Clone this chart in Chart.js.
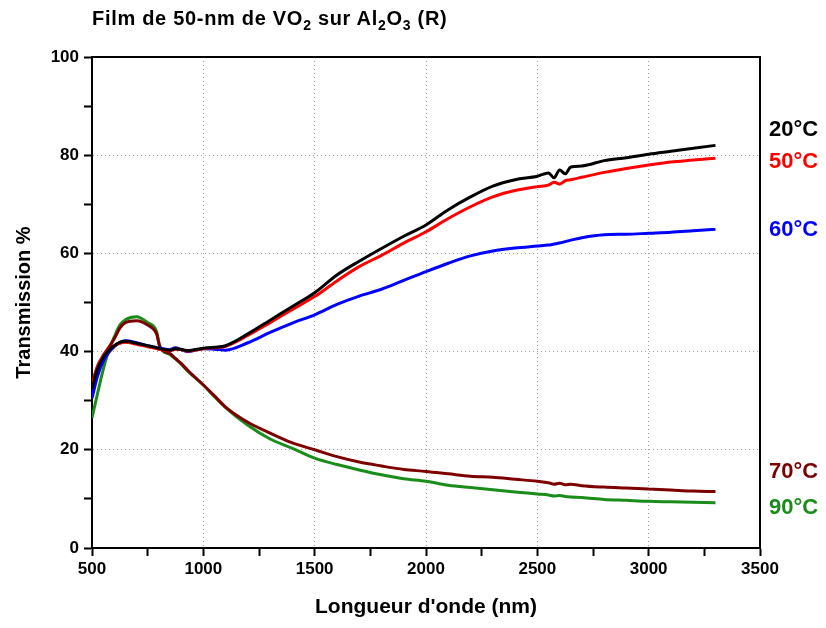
<!DOCTYPE html>
<html>
<head>
<meta charset="utf-8">
<script src="https://cdn.jsdelivr.net/npm/chart.js@4"></script>
<style>
  body { margin: 0; background: #fff; }
  #wrap { position: relative; width: 826px; height: 628px; }
  #title {
    position: absolute; left: 92px; top: 7px; letter-spacing: 0.7px;
    font: bold 20px "Liberation Sans", Arial, sans-serif; color: #000;
  }
  #title sub { font-size: 14px; vertical-align: -5px; line-height: 0; }
</style>
</head>
<body>
<div id="wrap">
  <div id="title">Film de 50-nm de VO<sub>2</sub> sur Al<sub>2</sub>O<sub>3</sub> (R)</div>
  <canvas id="spectra" width="826" height="628"></canvas>
</div>
<script>
const wavelengths = [500, 525, 550, 575, 600, 625, 650, 700, 750, 790, 805, 850, 875, 900, 930,
  1000, 1050, 1100, 1200, 1300, 1400, 1500, 1600, 1700, 1800, 1900, 2000, 2100, 2200, 2300,
  2400, 2500, 2550, 2575, 2600, 2625, 2650, 2700, 2800, 2900, 3000, 3100, 3200, 3300];

const t20 = [32.5, 36.5, 38.8, 40.2, 41.2, 41.9, 42.1, 41.7, 41.2, 40.8, 40.6, 40.3, 40.6, 40.5, 40.2,
  40.7, 40.9, 41.2, 43.6, 46.4, 49.2, 52.0, 55.6, 58.4, 61.0, 63.5, 65.8, 68.9, 71.5, 73.7,
  75.0, 75.7, 76.4, 75.4, 77.0, 76.2, 77.6, 77.8, 78.9, 79.5, 80.2, 80.8, 81.4, 82.0];

const t50 = [33.0, 37.0, 39.0, 40.3, 41.2, 41.7, 41.9, 41.5, 41.0, 40.6, 40.4, 40.2, 40.5, 40.4, 40.1,
  40.6, 40.8, 41.1, 43.3, 45.9, 48.6, 51.2, 54.4, 57.3, 59.6, 62.1, 64.4, 67.1, 69.5, 71.5,
  72.8, 73.6, 73.9, 74.5, 74.1, 74.8, 75.0, 75.5, 76.5, 77.3, 78.0, 78.6, 79.0, 79.4];

const t60 = [30.5, 35.0, 38.0, 39.8, 41.0, 41.9, 42.2, 41.8, 41.2, 40.8, 40.7, 40.4, 40.8, 40.4, 40.0,
  40.6, 40.5, 40.3, 41.8, 43.9, 45.8, 47.5, 49.6, 51.3, 52.7, 54.5, 56.3, 58.0, 59.5, 60.5,
  61.1, 61.5, 61.7, 61.9, 62.1, 62.4, 62.7, 63.2, 63.8, 63.9, 64.1, 64.3, 64.6, 64.9];

const t70 = [33.5, 37.0, 39.2, 40.8, 42.6, 44.8, 45.9, 46.3, 45.4, 43.6, 41.0, 39.6, 38.6, 37.6, 36.2,
  33.2, 31.0, 28.7, 25.6, 23.4, 21.4, 20.0, 18.6, 17.5, 16.7, 16.0, 15.6, 15.1, 14.6, 14.4,
  14.0, 13.6, 13.3, 13.0, 13.2, 12.9, 13.0, 12.7, 12.4, 12.2, 12.0, 11.8, 11.6, 11.5];

const t90 = [26.5, 31.5, 36.3, 40.2, 43.0, 45.4, 46.5, 47.1, 45.9, 44.1, 41.0, 39.4, 38.5, 37.5, 36.0,
  33.2, 30.8, 28.6, 25.0, 22.2, 20.3, 18.3, 17.0, 15.9, 14.9, 14.1, 13.6, 12.8, 12.3, 11.85,
  11.4, 11.0, 10.8, 10.6, 10.7, 10.5, 10.4, 10.3, 9.9, 9.7, 9.5, 9.4, 9.3, 9.2];

const seriesNames = ['20°C', '50°C', '60°C', '70°C', '90°C'];
const seriesColors = ['#000000', '#ff0000', '#0000ff', '#7d0000', '#1a8c1a'];
const seriesValues = [t20, t50, t60, t70, t90];
// where the temperature labels sit on the right, in % units
const labelLevels = [85.1, 78.6, 64.8, 15.5, 8.2];

const ctx = document.getElementById('spectra').getContext('2d');
const fontFamily = '"Liberation Sans", Arial, sans-serif';

const datasets = seriesValues.map((vals, i) => ({
  label: seriesNames[i],
  data: wavelengths.map((w, j) => ({ x: w, y: vals[j] })),
  borderColor: seriesColors[i],
  borderWidth: 3,
  pointRadius: 0,
  cubicInterpolationMode: 'monotone',
  fill: false
}));

const frameAndLabels = {
  id: 'frameAndLabels',
  afterDraw(chart) {
    const c = chart.ctx;
    const a = chart.chartArea;
    c.save();
    c.strokeStyle = '#000';
    c.lineWidth = 2;
    c.beginPath();
    c.moveTo(a.left, a.top);
    c.lineTo(a.right, a.top);
    c.lineTo(a.right, a.bottom);
    c.stroke();

    c.font = 'bold 22px ' + fontFamily;
    c.textBaseline = 'middle';
    c.textAlign = 'left';
    const y = chart.scales.y;
    seriesNames.forEach((name, i) => {
      c.fillStyle = seriesColors[i];
      c.fillText(name, a.right + 9, y.getPixelForValue(labelLevels[i]));
    });
    c.restore();
  }
};

new Chart(ctx, {
  type: 'line',
  data: { datasets: datasets },
  plugins: [frameAndLabels],
  options: {
    responsive: false,
    animation: false,
    devicePixelRatio: 1,
    layout: { padding: { left: 0, top: 57, right: 66, bottom: 0 } },
    plugins: { legend: { display: false }, tooltip: { enabled: false } },
    scales: {
      x: {
        type: 'linear',
        min: 500,
        max: 3500,
        afterFit(scale) { scale.height = 80; },
        ticks: {
          stepSize: 250,
          autoSkip: false,
          maxRotation: 0,
          padding: 3,
          color: '#000',
          font: { family: fontFamily, size: 17, weight: 'bold' },
          callback: v => (v % 500 === 0 ? v : '')
        },
        grid: {
          color: c => (c.tick && c.tick.value % 500 === 0 && c.tick.value > 500 && c.tick.value < 3500) ? '#a0a0a0' : 'rgba(0,0,0,0)',
          tickColor: '#000',
          tickWidth: 2,
          tickLength: 8,
          tickBorderDash: []
        },
        border: { color: '#000', width: 2, dash: [1, 3] },
        title: {
          display: true,
          text: "Longueur d'onde (nm)",
          color: '#000',
          font: { family: fontFamily, size: 21, weight: 'bold' },
          padding: { top: 0, bottom: 8 }
        }
      },
      y: {
        min: 0,
        max: 100,
        afterFit(scale) { scale.width = 92; },
        ticks: {
          stepSize: 10,
          autoSkip: false,
          padding: 5,
          color: '#000',
          font: { family: fontFamily, size: 17, weight: 'bold' },
          callback: v => (v % 20 === 0 ? v : '')
        },
        grid: {
          color: c => (c.tick && c.tick.value % 20 === 0 && c.tick.value > 0 && c.tick.value < 100) ? '#a0a0a0' : 'rgba(0,0,0,0)',
          tickColor: '#000',
          tickWidth: 2,
          tickLength: 8,
          tickBorderDash: []
        },
        border: { color: '#000', width: 2, dash: [1, 3] },
        title: {
          display: true,
          text: 'Transmission %',
          color: '#000',
          font: { family: fontFamily, size: 20, weight: 'bold' },
          padding: { top: 12, bottom: 0 }
        }
      }
    }
  }
});
</script>
</body>
</html>
